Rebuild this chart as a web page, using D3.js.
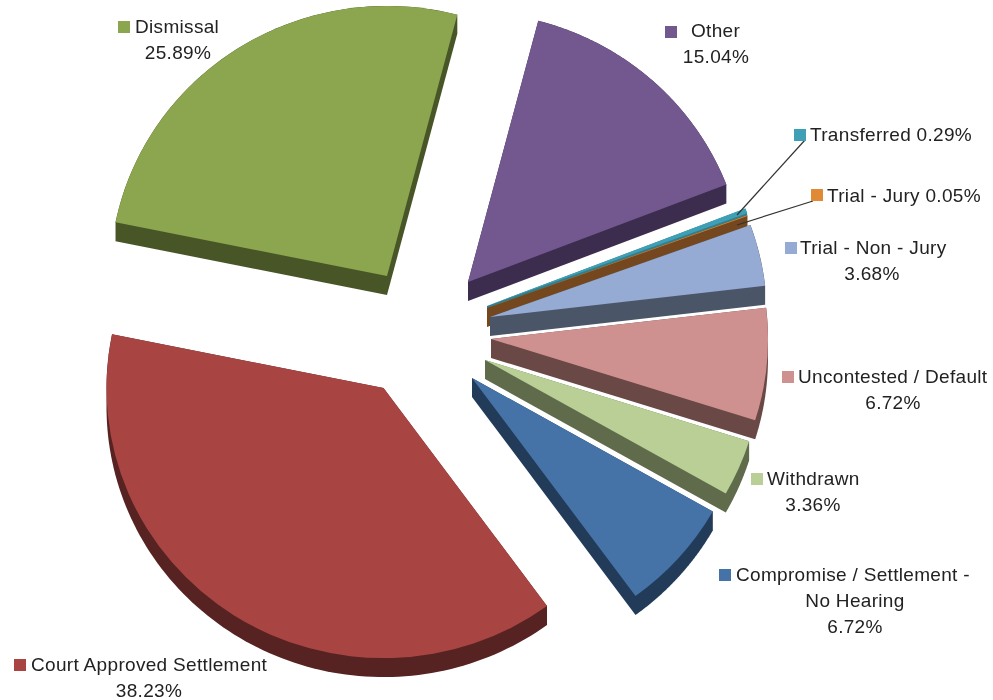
<!DOCTYPE html>
<html>
<head>
<meta charset="utf-8">
<script src="https://cdn.jsdelivr.net/npm/d3@7"></script>
<style>
  html, body { margin: 0; background: #fff; }
  svg { filter: blur(0.4px); }
  text { font-family: "Liberation Sans", Arial, sans-serif; font-size: 19px; letter-spacing: 0.32px; fill: #222; }
</style>
</head>
<body>
<div id="container"></div>
<script>
// data, clockwise from the Other slice
const categories = ["Other", "Transferred", "Trial - Jury", "Trial - Non - Jury", "Uncontested / Default",
  "Withdrawn", "Compromise / Settlement - No Hearing", "Court Approved Settlement", "Dismissal"];
const shares = [15.04, 0.29, 0.05, 3.68, 6.72, 3.36, 6.72, 38.23, 25.89];

// colours per slice
const topColors = ["#735890", "#3fa0b5", "#e08a35", "#95abd3", "#cf918f", "#b9cf95", "#4573a7", "#a84543", "#8ba64e"];
const wallColors = ["#3c2c4e", "#2f7f90", "#74471f", "#4b5568", "#694846", "#5f6b4b", "#223b58", "#572322", "#485527"];

// where each exploded slice has its tip
const tips = [[468, 282], [487, 306], [487, 308], [490, 317], [491, 339], [485, 360], [472, 378], [383.5, 388], [387, 276]];

// legend key + text lines. first line starts at x, the others are centred on cx
const labels = [
  { key: [665, 26], x: 691, y: 37, cx: 716, lines: ["Other", "15.04%"] },
  { key: [794, 129], x: 810, y: 141, cx: 890, lines: ["Transferred 0.29%"] },
  { key: [811, 189], x: 827, y: 202, cx: 903, lines: ["Trial - Jury 0.05%"] },
  { key: [785, 242], x: 800, y: 254, cx: 872, lines: ["Trial - Non - Jury", "3.68%"] },
  { key: [782, 371], x: 798, y: 383, cx: 893, lines: ["Uncontested / Default", "6.72%"] },
  { key: [751, 473], x: 767, y: 485, cx: 813, lines: ["Withdrawn", "3.36%"] },
  { key: [719, 569], x: 736, y: 581, cx: 855, lines: ["Compromise / Settlement -", "No Hearing", "6.72%"] },
  { key: [14, 659], x: 31, y: 671, cx: 149, lines: ["Court Approved Settlement", "38.23%"] },
  { key: [118, 21], x: 135, y: 33, cx: 178, lines: ["Dismissal", "25.89%"] },
];

const width = 993, height = 700;
const radius = 277, squash = 0.975, depth = 19;
const keySize = 12, lineHeight = 26;
const startDeg = 14.7;

const svg = d3.select("#container").append("svg")
  .attr("width", width)
  .attr("height", height)
  .style("display", "block");

const pie = d3.pie().sort(null)
  .startAngle(startDeg * Math.PI / 180)
  .endAngle((startDeg + 360) * Math.PI / 180);
const arc = d3.arc().innerRadius(0).outerRadius(radius);

const slices = pie(shares).map((d, i) => ({ ...d, tip: tips[i], i }));

// the wall is the hull of the slice outline and the same outline moved down
function wallPath(d) {
  const steps = d3.range(0, 1.0001, 0.01).map(t => d.startAngle + t * (d.endAngle - d.startAngle));
  const outline = steps.map(a => [d.tip[0] + radius * Math.sin(a), d.tip[1] - radius * squash * Math.cos(a)]);
  outline.push(d.tip);
  const hull = d3.polygonHull(outline.concat(outline.map(p => [p[0], p[1] + depth])));
  return "M" + hull.join("L") + "Z";
}

const sliceG = svg.append("g").selectAll("g")
  .data(slices)
  .join("g");

sliceG.append("path")
  .attr("d", wallPath)
  .attr("fill", d => wallColors[d.i]);

sliceG.append("path")
  .attr("d", arc)
  .attr("transform", d => `translate(${d.tip[0]},${d.tip[1]}) scale(1,${squash})`)
  .attr("fill", d => topColors[d.i]);

// leader lines for the two tiny slices
const leaders = [
  [[805, 140], [737, 215]],
  [[813, 201], [737, 225]],
];
svg.append("g").selectAll("line")
  .data(leaders)
  .join("line")
  .attr("x1", d => d[0][0]).attr("y1", d => d[0][1])
  .attr("x2", d => d[1][0]).attr("y2", d => d[1][1])
  .attr("stroke", "#333")
  .attr("stroke-width", 1.2);

const labelG = svg.append("g").selectAll("g")
  .data(labels)
  .join("g");

labelG.append("rect")
  .attr("x", d => d.key[0]).attr("y", d => d.key[1])
  .attr("width", keySize).attr("height", keySize)
  .attr("fill", (d, i) => topColors[i]);

labelG.selectAll("text")
  .data(d => d.lines.map((t, j) => ({ t, j, d })))
  .join("text")
  .attr("x", e => e.j === 0 ? e.d.x : e.d.cx)
  .attr("y", e => e.d.y + e.j * lineHeight)
  .attr("text-anchor", e => e.j === 0 ? "start" : "middle")
  .text(e => e.t);
</script>
</body>
</html>
